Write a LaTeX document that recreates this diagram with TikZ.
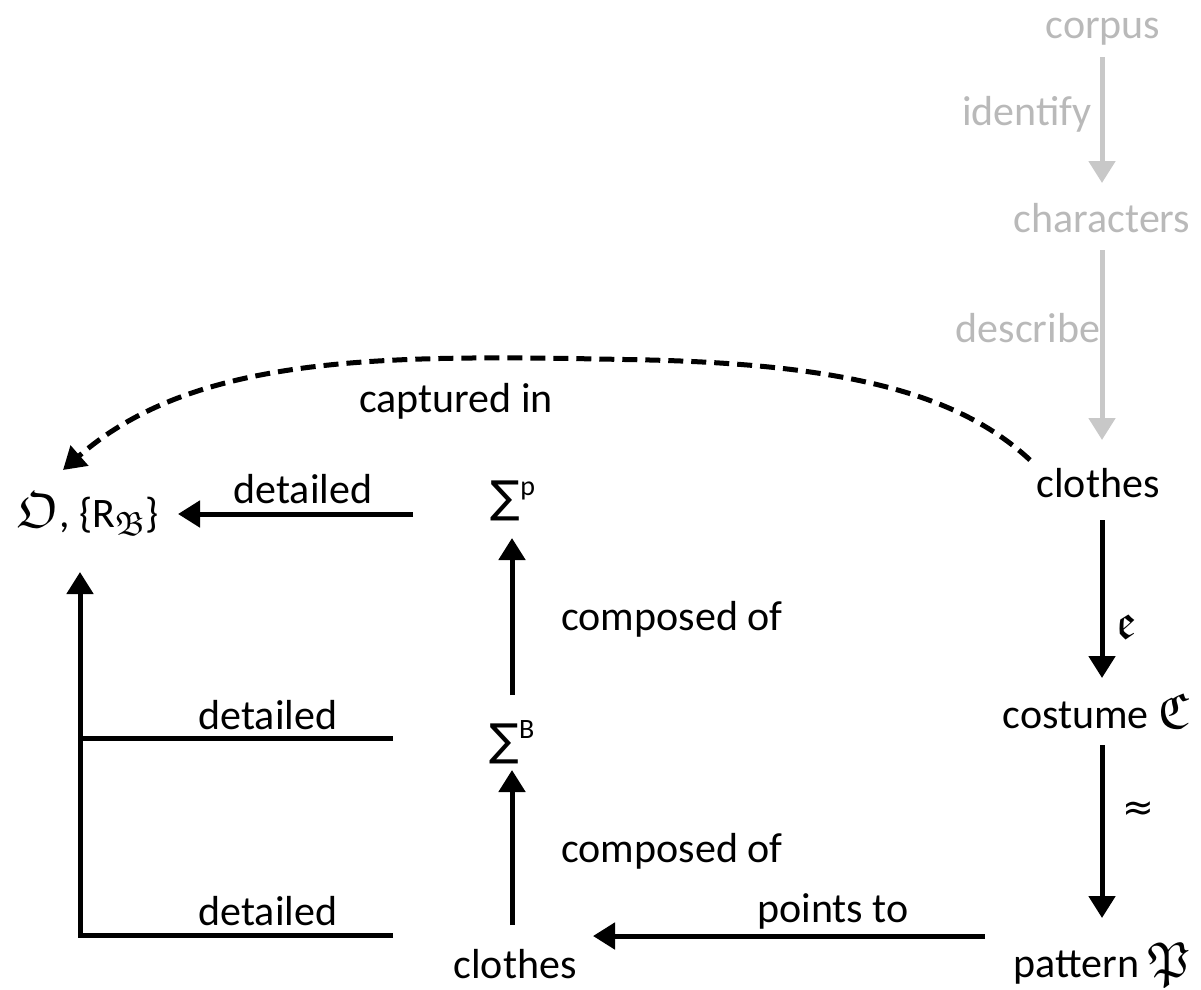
\documentclass[tikz,border=0pt]{standalone}
\usepackage{fontspec}
\setmainfont{Carlito}
\newfontfamily\frakfont[Scale=1.2]{Latin Modern Math}
\newfontfamily\symfont{DejaVu Sans}
\usetikzlibrary{arrows.meta,calc}
\definecolor{softgray}{RGB}{185,185,185}
\definecolor{arrowgray}{RGB}{200,200,200}
\newcommand\smallsz{\fontsize{28}{30}\selectfont}
\begin{document}
\begin{tikzpicture}[x=1pt,y=-1pt,
  lbl/.style={anchor=base,inner sep=0pt,font=\fontsize{42}{50}\selectfont},
  glbl/.style={lbl,text=softgray},
  arr/.style={line width=5pt,-{Triangle[width=26pt,length=22pt]}},
  garr/.style={arr,draw=arrowgray},
  link/.style={line width=5pt},
  dashlink/.style={line width=5pt,dash pattern=on 15pt off 8pt,
                   -{Triangle[width=26pt,length=22pt]}}]
\useasboundingbox (0,0) rectangle (1201,989);

% grey preparatory chain
\node[glbl] (corpus) at (1103,38) {corpus};
\node[glbl] (identify) at (1027,125) {identify};
\node[glbl] (characters) at (1102,232) {characters};
\node[glbl] (describe) at (1028,342) {describe};

% right column
\node[lbl] (clothesR) at (1098,497) {clothes};
\node[lbl] (costume) at (1096,728) {costume {\frakfont ℭ}};
\node[lbl] (pattern) at (1102,977) {pattern {\frakfont 𝔓}};
\node[lbl] (elbl) at (1127,638) {\frakfont 𝔢};
\node[lbl] (approx) at (1138,820) {\symfont\fontsize{38}{40}\selectfont ≈};

% middle column
\node[lbl] (clothesB) at (515,978) {clothes};
\node[lbl] (sumB) at (512,755) {{\symfont\fontsize{44}{50}\selectfont ∑}\raisebox{17pt}{\smallsz B}};
\node[lbl] (sumP) at (513,512) {{\symfont\fontsize{44}{50}\selectfont ∑}\raisebox{17pt}{\smallsz p}};
\node[lbl] (compA) at (672,630) {composed of};
\node[lbl] (compB) at (672,862) {composed of};
\node[lbl] (points) at (833,922) {points to};

% left column
\node[lbl] (onto) at (88,527) {{\frakfont 𝔒}, \{R\raisebox{-8pt}{\smallsz\frakfont 𝔅}\}};
\node[lbl] (detA) at (303,503) {detailed};
\node[lbl] (detB) at (268,729) {detailed};
\node[lbl] (detC) at (268,925) {detailed};
\node[lbl] (captured) at (456,412) {captured in};

% helper points for the left spine
\coordinate (spineTop) at ($(onto.base)+(-8,45)$);
\coordinate (rowB) at ($(sumB.base)+(-119,-17)$);
\coordinate (rowC) at ($(clothesB.base)+(-122,-43)$);

% grey arrows
\draw[garr] ($(corpus.base)+(-1,19)$) -- ($(characters.base)+(0,-49)$);
\draw[garr] ($(characters.base)+(0,18)$) -- ($(clothesR.base)+(4,-57)$);

% black arrows
\draw[arr] ($(clothesR.base)+(4,23)$) -- ($(costume.base)+(6,-50)$);
\draw[arr] ($(costume.base)+(6,17)$) -- ($(pattern.base)+(0,-59)$);
\draw[arr] ($(pattern.base)+(-117,-41)$) -- ($(clothesB.base)+(78,-42)$);
\draw[arr] ($(clothesB.base)+(-3,-53)$) -- ($(sumB.base)+(0,15)$);
\draw[arr] ($(sumB.base)+(0,-60)$) -- ($(sumP.base)+(-1,26)$);
\draw[arr] ($(sumP.base)+(-100,2)$) -- ($(onto.base)+(90,-13)$);

% left spine with its two feeders
\draw[arr] (rowC) -| (spineTop);
\draw[link] (rowB) -- (rowB -| spineTop);

% dashed link from the clothes to the ontology
\draw[dashlink] ($(clothesR.base)+(-68,-37)$)
  .. controls +(-70,-65) and (850,365) .. (650,360)
  .. controls (400,355) and (200,350) .. ($(onto.base)+(-25,-57)$);
\end{tikzpicture}
\end{document}
